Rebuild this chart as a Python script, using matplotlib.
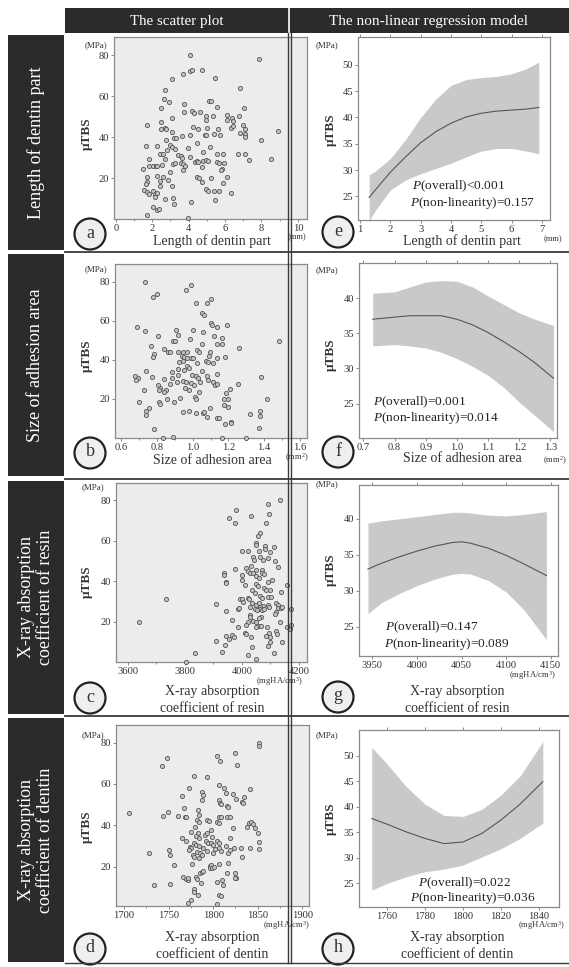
import matplotlib
matplotlib.use("Agg")
import matplotlib.pyplot as plt
from matplotlib.patches import Rectangle, Circle
from matplotlib.ticker import MultipleLocator

plt.rcParams['font.family'] = ['Liberation Serif', 'DejaVu Serif']
plt.rcParams['mathtext.fontset'] = 'custom'
plt.rcParams['mathtext.rm'] = 'Liberation Serif'
plt.rcParams['mathtext.it'] = 'Liberation Serif:italic'

W, H = 569, 967

# ---------------- data ----------------
col_titles = ["The scatter plot", "The non-linear regression model"]
row_titles = ["Length of dentin part", "Size of adhesion area",
              "X-ray absorption\ncoefficient of resin",
              "X-ray absorption\ncoefficient of dentin"]

a_points = [(4.07,80.1),(7.87,78.1),(4.72,72.8),(4.10,72.4),(4.17,73.0),(3.67,71.1),(3.06,68.7),(5.43,69.0),(6.83,64.1),(2.68,63.0),(2.64,58.9),(2.94,57.3),(5.10,57.7),(5.21,57.7),(3.76,56.4),(5.56,55.0),(7.03,54.5),(2.46,54.2),(3.08,49.6),(3.76,52.2),(4.17,52.9),(4.29,52.0),(4.62,52.2),(4.95,50.2),(4.95,48.3),(5.36,50.2),(6.11,50.7),(6.11,48.6),(6.39,49.4),(6.46,48.0),(6.79,50.2),(6.97,46.0),(7.12,43.9),(1.69,45.8),(2.48,47.5),(2.46,43.9),(2.70,44.5),(2.75,43.9),(4.22,45.0),(4.50,43.9),(5.03,44.4),(5.63,43.9),(6.33,44.4),(7.12,41.8),(7.12,40.1),(8.90,43.1),(8.00,38.5),(3.10,42.6),(3.20,39.6),(3.30,39.6),(3.65,40.5),(4.07,41.3),(4.88,40.9),(4.95,41.1),(5.39,41.8),(5.72,40.9),(6.83,42.1),(6.46,45.5),(2.73,38.5),(1.65,35.9),(2.24,35.6),(2.97,36.0),(3.10,35.2),(3.24,34.4),(3.96,34.9),(4.48,37.0),(5.17,35.2),(5.54,32.0),(5.87,32.0),(2.79,33.6),(2.42,31.6),(2.60,31.6),(2.72,29.5),(3.43,31.2),(3.56,30.7),(3.65,29.7),(4.07,30.3),(4.81,32.6),(6.70,31.6),(7.12,31.6),(7.30,29.0),(8.50,29.5),(1.83,29.5),(1.83,26.0),(2.05,26.0),(2.20,26.0),(2.28,26.0),(1.50,24.6),(2.51,26.3),(3.16,27.1),(3.27,27.6),(3.56,27.4),(3.70,27.1),(3.80,25.8),(4.35,28.1),(4.44,28.2),(4.53,27.9),(4.81,28.4),(4.95,28.7),(5.08,28.2),(5.54,27.9),(5.69,27.4),(5.94,27.6),(4.76,25.4),(3.70,23.8),(5.85,24.6),(5.76,24.1),(2.97,23.0),(1.72,20.6),(2.28,20.9),(2.57,20.6),(2.86,19.2),(4.48,20.6),(4.59,20.2),(5.21,20.1),(6.13,20.6),(4.72,18.1),(5.89,17.6),(1.72,18.1),(1.65,17.0),(2.42,18.4),(2.42,16.0),(3.08,16.3),(1.54,14.4),(1.69,13.0),(1.83,12.4),(2.02,13.7),(2.17,12.4),(2.24,12.7),(2.13,10.8),(4.95,14.5),(5.08,13.7),(5.39,13.7),(5.69,13.7),(6.31,12.7),(2.72,10.0),(3.16,10.4),(3.20,7.5),(4.13,8.2),(5.47,9.1),(2.02,5.9),(2.28,4.6),(2.35,4.9),(1.72,2.1),(3.96,0.5)]

b_points = [(0.732,80),(0.989,78.3),(0.961,75.5),(0.779,72.2),(0.801,73.4),(1.101,71.2),(1.080,68.8),(1.021,68.8),(1.051,64.0),(1.066,63.1),(0.688,56.6),(0.735,54.5),(0.907,55.2),(1.000,55.2),(1.056,54.0),(1.101,58.8),(1.107,57.9),(1.134,57.0),(1.190,57.6),(0.803,52.0),(0.920,52.8),(1.120,52.0),(1.163,51.4),(0.892,49.8),(0.901,49.8),(0.983,50.5),(1.053,48.1),(1.136,48.1),(1.163,47.9),(1.483,49.8),(1.261,45.9),(0.764,47.1),(0.840,45.7),(0.859,43.8),(0.874,44.1),(0.918,44.1),(0.948,44.1),(0.967,44.1),(0.940,41.7),(0.950,41.2),(0.967,40.7),(1.023,45.0),(1.038,43.8),(1.097,43.8),(1.090,41.9),(0.784,42.9),(0.777,41.5),(0.991,40.7),(1.000,41.0),(1.075,39.3),(1.086,39.0),(1.134,41.0),(1.181,41.5),(1.112,38.4),(1.025,38.4),(0.924,39.0),(0.945,39.3),(0.967,36.7),(0.978,35.9),(0.917,35.5),(0.883,33.8),(1.052,34.5),(0.952,35.0),(0.676,31.7),(0.691,30.7),(0.683,29.5),(0.773,31.2),(0.736,34.1),(0.840,30.3),(0.883,30.9),(0.917,32.0),(0.994,32.0),(1.021,31.7),(1.032,30.7),(1.079,31.7),(1.134,32.9),(1.382,31.2),(0.725,24.8),(0.803,27.2),(0.818,25.5),(0.874,27.8),(0.911,28.6),(0.945,29.0),(0.963,28.6),(0.989,28.3),(1.010,27.2),(1.041,28.6),(1.088,29.5),(1.116,28.6),(1.125,26.9),(1.138,27.8),(1.255,27.8),(0.851,24.3),(0.840,23.4),(0.957,25.5),(0.981,24.8),(1.038,23.4),(1.188,23.1),(1.209,25.2),(0.810,24.3),(0.930,20.3),(0.855,19.7),(1.012,21.2),(1.017,19.7),(1.173,20.0),(1.199,20.0),(0.701,18.3),(0.812,18.3),(0.818,17.4),(0.896,18.3),(1.173,17.1),(1.199,15.7),(0.755,15.5),(1.416,20.0),(0.736,14.0),(0.740,11.7),(0.944,13.1),(0.980,13.6),(1.021,12.6),(1.060,12.6),(1.064,13.4),(1.097,15.3),(1.079,10.5),(1.134,10.0),(1.147,10.0),(1.321,12.2),(1.377,13.8),(1.377,11.2),(1.214,8.3),(1.212,7.6),(1.179,7.1),(0.781,4.5),(1.371,5.0),(0.836,0.2),(0.892,0.4),(1.162,0.2),(1.297,0.2)]

c_points = [(3638,20.0),(3734,31.2),(3835,4.6),(3804,0.2),(4135,80.0),(4091,78.0),(3979,75.4),(4094,73.4),(4032,72.2),(3955,71.2),(3975,68.8),(4084,68.8),(4063,63.8),(4058,62.6),(4049,58.8),(4051,57.7),(4081,57.4),(4081,56.0),(4111,56.9),(4002,54.9),(4022,54.9),(4060,54.7),(4100,54.4),(4039,52.2),(4042,50.6),(4063,51.9),(4074,50.6),(4092,51.4),(4115,49.8),(4127,46.9),(4016,46.6),(4033,47.3),(4051,45.3),(4069,45.6),(3975,45.8),(3937,44.1),(3938,43.1),(4022,45.0),(4028,44.1),(4039,44.0),(4072,44.1),(4077,43.6),(4002,43.1),(4051,42.8),(4060,41.7),(4106,40.8),(4092,39.5),(3999,40.8),(3943,39.8),(3944,39.0),(4010,37.9),(4050,38.7),(4057,37.5),(4077,36.4),(4086,35.4),(4098,35.4),(4159,38.2),(4138,34.5),(4034,35.7),(4045,34.2),(3993,31.2),(4000,31.2),(4020,31.6),(4026,31.2),(4065,32.9),(4070,31.7),(4092,32.0),(4101,32.0),(3909,28.8),(4004,29.6),(4037,29.1),(4051,28.4),(4060,29.1),(4074,27.9),(4092,28.4),(4095,27.4),(4121,29.1),(4127,28.4),(4063,27.1),(4065,26.3),(4071,25.5),(4077,26.3),(4045,26.3),(4053,25.8),(4127,26.6),(4138,26.8),(4142,27.1),(4173,26.3),(3987,26.3),(3991,26.8),(4030,27.1),(3946,25.0),(4121,24.6),(4117,23.8),(3964,21.0),(4068,22.1),(4060,21.8),(4028,23.3),(4028,22.5),(4039,20.5),(4051,19.7),(4059,18.0),(4066,17.7),(4022,19.7),(4013,18.5),(3987,17.2),(4133,20.0),(4168,16.4),(4159,17.5),(4172,18.3),(4048,17.2),(4088,17.2),(4095,14.2),(4086,13.1),(4098,12.6),(4119,15.5),(4123,14.0),(4010,14.2),(4016,13.9),(4031,12.6),(3944,13.0),(3964,13.6),(3972,12.2),(3955,11.6),(3911,10.2),(4142,10.1),(4100,9.8),(4093,7.8),(4037,7.3),(3940,8.4),(3932,5.1),(4112,4.5),(4020,3.5),(4051,1.5)]

d_points = [(1706,46.1),(1728,26.5),(1734,11.1),(1743,68.9),(1748,72.4),(1744,44.7),(1749,46.6),(1750,28.1),(1752,25.6),(1752,11.6),(1756,20.8),(1760,44.5),(1765,54.4),(1765,33.7),(1767,48.2),(1768,44.2),(1769,44.2),(1766,15.2),(1769,32.6),(1770,13.9),(1772,13.5),(1772,14.4),(1773,57.9),(1774,29.7),(1775,28.9),(1773,28.1),(1775,36.9),(1777,25.6),(1778,24.8),(1776,21.3),(1779,64.0),(1778,9.0),(1779,7.9),(1781,15.2),(1782,13.9),(1783,6.3),(1772,2.6),(1775,3.9),(1783,47.4),(1784,45.0),(1782,42.6),(1784,41.8),(1780,39.4),(1783,36.5),(1781,34.8),(1784,33.7),(1778,31.3),(1781,30.5),(1784,30.0),(1782,27.3),(1785,26.5),(1784,24.0),(1787,25.6),(1787,56.3),(1789,54.7),(1788,52.3),(1785,16.8),(1788,17.6),(1789,18.1),(1786,11.9),(1793,63.2),(1793,42.6),(1795,42.3),(1791,35.3),(1793,36.1),(1792,32.6),(1794,31.6),(1789,28.9),(1793,27.7),(1796,20.3),(1797,19.5),(1798,21.0),(1799,19.6),(1801,20.0),(1798,37.7),(1799,34.5),(1798,31.3),(1800,30.5),(1802,28.4),(1800,26.8),(1804,73.5),(1808,71.3),(1806,59.5),(1806,52.3),(1808,51.0),(1809,50.3),(1807,44.2),(1809,43.9),(1804,41.8),(1806,41.0),(1804,32.6),(1806,31.6),(1807,28.9),(1809,27.7),(1807,21.3),(1804,12.7),(1810,13.5),(1811,11.1),(1807,6.3),(1809,5.8),(1804,1.9),(1812,57.9),(1814,55.8),(1815,49.4),(1817,48.7),(1816,44.2),(1814,30.0),(1817,26.5),(1819,28.1),(1817,21.9),(1815,16.8),(1819,44.2),(1819,33.7),(1822,55.2),(1822,38.5),(1823,28.9),(1825,75.2),(1827,69.2),(1826,52.6),(1824,17.1),(1826,14.4),(1824,14.4),(1832,51.5),(1834,50.6),(1831,28.9),(1832,24.5),(1835,53.5),(1838,39.0),(1840,41.3),(1842,41.8),(1841,57.4),(1841,29.0),(1845,40.6),(1850,36.1),(1851,28.4),(1851,32.1),(1851,80.0),(1851,78.4),(1847,38.5)]

# regression curves (x, fitted, upper CI, lower CI)
e_x = [1.3, 1.5, 2.0, 2.5, 3.0, 3.5, 4.0, 4.5, 5.0, 5.5, 6.0, 6.5, 6.9]
e_fit = [24.8, 26.2, 29.6, 32.5, 35.2, 37.3, 38.9, 40.1, 40.8, 41.2, 41.4, 41.6, 41.9]
e_up = [29.1, 29.8, 32.2, 35.8, 40.0, 43.5, 46.1, 47.2, 47.6, 47.8, 48.3, 49.3, 50.5]
e_lo = [20.4, 22.3, 26.2, 28.1, 29.3, 30.3, 31.3, 32.5, 33.6, 34.1, 34.1, 33.6, 33.1]

f_x = [0.73, 0.80, 0.85, 0.90, 0.95, 1.00, 1.05, 1.10, 1.15, 1.20, 1.25, 1.31]
f_fit = [37.0, 37.3, 37.5, 37.5, 37.5, 37.0, 36.2, 35.1, 33.8, 32.4, 30.8, 28.6]
f_up = [40.7, 40.9, 41.6, 42.3, 42.5, 42.4, 41.6, 40.3, 39.1, 37.9, 37.0, 36.1]
f_lo = [33.2, 33.4, 33.2, 32.9, 32.3, 31.4, 30.3, 29.0, 27.3, 25.2, 23.3, 21.0]

g_x = [3945, 3960, 3980, 4000, 4020, 4040, 4050, 4060, 4080, 4100, 4120, 4145]
g_fit = [33.0, 33.8, 34.7, 35.5, 36.2, 36.7, 36.8, 36.6, 35.9, 34.9, 33.7, 32.1]
g_up = [39.4, 39.7, 40.0, 40.3, 40.6, 40.9, 40.9, 40.8, 40.5, 40.4, 40.6, 41.0]
g_lo = [26.8, 28.3, 29.6, 30.7, 31.6, 32.3, 32.4, 32.3, 31.4, 29.8, 27.3, 23.2]

h_x = [1752, 1760, 1770, 1780, 1790, 1800, 1810, 1820, 1830, 1842]
h_fit = [37.7, 36.6, 35.1, 33.8, 32.8, 33.1, 34.8, 37.4, 40.5, 44.9]
h_up = [51.6, 48.4, 44.0, 40.5, 38.3, 38.1, 39.5, 42.3, 46.0, 52.7]
h_lo = [23.7, 25.0, 26.3, 27.3, 27.8, 28.6, 30.2, 31.8, 33.8, 36.8]

p_texts = {
    'e': ["$\\it{P}$(overall)<0.001", "$\\it{P}$(non-linearity)=0.157"],
    'f': ["$\\it{P}$(overall)=0.001", "$\\it{P}$(non-linearity)=0.014"],
    'g': ["$\\it{P}$(overall)=0.147", "$\\it{P}$(non-linearity)=0.089"],
    'h': ["$\\it{P}$(overall)=0.022", "$\\it{P}$(non-linearity)=0.036"],
}

# ---------------- figure ----------------
fig = plt.figure(figsize=(W/100, H/100), dpi=100)
fig.patch.set_facecolor('white')

def add_ax(l, t, r, b):
    return fig.add_axes([l/W, 1 - b/H, (r-l)/W, (b-t)/H])

DARK = '#2b2b2b'
TXT = '#333333'

def style(ax, bg, top=False):
    ax.set_facecolor(bg)
    for s in ax.spines.values():
        s.set_color('#8a8a8a')
        s.set_linewidth(0.9)
    ax.tick_params(which='both', direction='out', color='#777777', width=0.6,
                   labelsize=7.6, labelcolor=TXT, pad=1.2, top=top)
    ax.tick_params(which='major', length=2.5)
    ax.tick_params(which='minor', length=1.5)

def scatter_panel(box, pts, xlim, ylim, xticks, xminor, xfmt=None):
    ax = add_ax(*box)
    style(ax, '#ececec')
    xs = [p[0] for p in pts]
    ys = [p[1] for p in pts]
    ax.scatter(xs, ys, s=9, facecolors='#c4c4c4', edgecolors='#555555',
               linewidths=0.6, clip_on=False, zorder=3)
    ax.set_xlim(*xlim)
    ax.set_ylim(*ylim)
    ax.set_xticks(xticks)
    if xfmt:
        ax.set_xticklabels([xfmt(v) for v in xticks])
    ax.xaxis.set_minor_locator(MultipleLocator(xminor))
    ax.set_yticks([20, 40, 60, 80])
    return ax

def model_panel(box, x, fit, up, lo, xlim, ylim, xticks, yticks, xfmt=None):
    ax = add_ax(*box)
    style(ax, 'white', top=True)
    ax.fill_between(x, lo, up, color='#c9c9c9', lw=0, zorder=1)
    ax.plot(x, fit, color='#555555', lw=0.8, zorder=2)
    ax.set_xlim(*xlim)
    ax.set_ylim(*ylim)
    ax.set_xticks(xticks)
    if xfmt:
        ax.set_xticklabels([xfmt(v) for v in xticks])
    ax.set_yticks(yticks)
    return ax

scatter_panel((114, 37, 307, 219), a_points, (-0.1, 10.5), (0, 89),
              [0, 2, 4, 6, 8, 10], 1)
scatter_panel((115, 264, 307, 438), b_points, (0.565, 1.64), (0, 89),
              [0.6, 0.8, 1.0, 1.2, 1.4, 1.6], 0.1, lambda v: f"{v:.1f}")
scatter_panel((116, 483, 307, 662), c_points, (3559, 4228), (0, 88.6),
              [3600, 3800, 4000, 4200], 100)
scatter_panel((116, 725, 309, 906), d_points, (1691, 1907.5), (1, 88.5),
              [1700, 1750, 1800, 1850, 1900], 25)

model_panel((358, 37, 550, 220), e_x, e_fit, e_up, e_lo, (0.93, 7.27), (20.5, 55.3),
            [1, 2, 3, 4, 5, 6, 7], [25, 30, 35, 40, 45, 50])
model_panel((359, 263, 557, 438), f_x, f_fit, f_up, f_lo, (0.686, 1.321), (20.1, 45),
            [0.7, 0.8, 0.9, 1.0, 1.1, 1.2, 1.3], [25, 30, 35, 40], lambda v: f"{v:.1f}")
model_panel((359, 485, 558, 656), g_x, g_fit, g_up, g_lo, (3935, 4158), (20.9, 44.7),
            [3950, 4000, 4050, 4100, 4150], [25, 30, 35, 40])
model_panel((359, 730, 559, 907), h_x, h_fit, h_up, h_lo, (1745.3, 1850.5), (20.4, 55),
            [1760, 1780, 1800, 1820, 1840], [25, 30, 35, 40, 45, 50])

# ---------------- overlay (pixel coordinates) ----------------
ov = fig.add_axes([0, 0, 1, 1], zorder=10)
ov.set_xlim(0, W)
ov.set_ylim(H, 0)
ov.axis('off')
ov.patch.set_alpha(0)

# header bar
ov.add_patch(Rectangle((65, 8), W - 65, 25, color=DARK, lw=0))
ov.plot([289, 289], [8, 33], color='white', lw=1.2)
ov.text(177, 21, col_titles[0], color='white', ha='center', va='center', fontsize=10.8)
ov.text(429, 21, col_titles[1], color='white', ha='center', va='center', fontsize=11)

# left row labels
rows = [(35, 250), (254, 476), (481, 714), (718, 962)]
for (t, b), lab in zip(rows, row_titles):
    ov.add_patch(Rectangle((8, t), 56, b - t, color=DARK, lw=0))
    ov.text(36, (t + b) / 2, lab, color='white', ha='center', va='center',
            rotation=90, fontsize=13, linespacing=1.2)

# grid lines
for y in [252, 478.5, 716]:
    ov.plot([65, W], [y, y], color='#3a3a3a', lw=1.3)
ov.plot([65, W], [963, 963], color='#3a3a3a', lw=1.0)
ov.plot([288, 288], [33, 963], color='#3a3a3a', lw=1.0)
ov.plot([291, 291], [33, 963], color='#3a3a3a', lw=1.0)

# panel letters
letters = [('a', 90, 234), ('e', 338, 232), ('b', 90, 453), ('f', 338, 452),
           ('c', 90, 698), ('g', 338, 697), ('d', 90, 949), ('h', 338, 949)]
for lt, cx, cy in letters:
    ov.add_patch(Circle((cx, cy), 15.5, facecolor='#efefef', edgecolor='#222222', lw=1.6))
    ov.text(cx, cy - 1, lt, ha='center', va='center', fontsize=13, color=TXT)

# axis label texts
lab_fs = 10
xlabels = [
    (212, 241, "Length of dentin part"), (462, 241, "Length of dentin part"),
    (212, 461, "Size of adhesion area"), (462, 458, "Size of adhesion area"),
    (212, 691, "X-ray absorption"), (212, 708, "coefficient of resin"),
    (457, 691, "X-ray absorption"), (457, 708, "coefficient of resin"),
    (212, 938, "X-ray absorption"), (212, 954, "coefficient of dentin"),
    (457, 938, "X-ray absorption"), (457, 954, "coefficient of dentin"),
]
for x, y, s in xlabels:
    ov.text(x, y, s, ha='center', va='center', fontsize=lab_fs, color=TXT)

units = [(297, 237, "(mm)"), (553, 239, "(mm)"), (297, 458, "(mm$^2$)"),
         (555, 461, "(mm$^2$)"), (279, 682, "(mgHA/cm$^3$)"), (532, 676, "(mgHA/cm$^3$)"),
         (286, 926, "(mgHA/cm$^3$)"), (541, 926, "(mgHA/cm$^3$)")]
for x, y, s in units:
    ov.text(x, y, s, ha='center', va='center', fontsize=6.2, color=TXT)

mpa = [(96, 45), (96, 269), (93, 487), (93, 735), (327, 45), (327, 270), (327, 484), (327, 735)]
for x, y in mpa:
    ov.text(x, y, "(MPa)", ha='center', va='center', fontsize=6.5, color=TXT)

ylab = [(87, 134), (87, 356), (87, 582), (87, 827), (331, 130), (331, 355), (331, 570), (331, 819)]
for x, y in ylab:
    ov.text(x, y, "\u03bcTBS", ha='center', va='center', fontsize=9.5, rotation=90,
            color=TXT, fontweight='bold')

p_pos = {'e': [(412, 186), (410, 203)], 'f': [(373, 402), (373, 418)],
         'g': [(385, 627), (384, 644)], 'h': [(418, 883), (410, 898)]}
for k, lines in p_texts.items():
    for (x, y), s in zip(p_pos[k], lines):
        ov.text(x, y, s, ha='left', va='center', fontsize=9.6, color='#222222')

fig.savefig('out.png', dpi=100)
